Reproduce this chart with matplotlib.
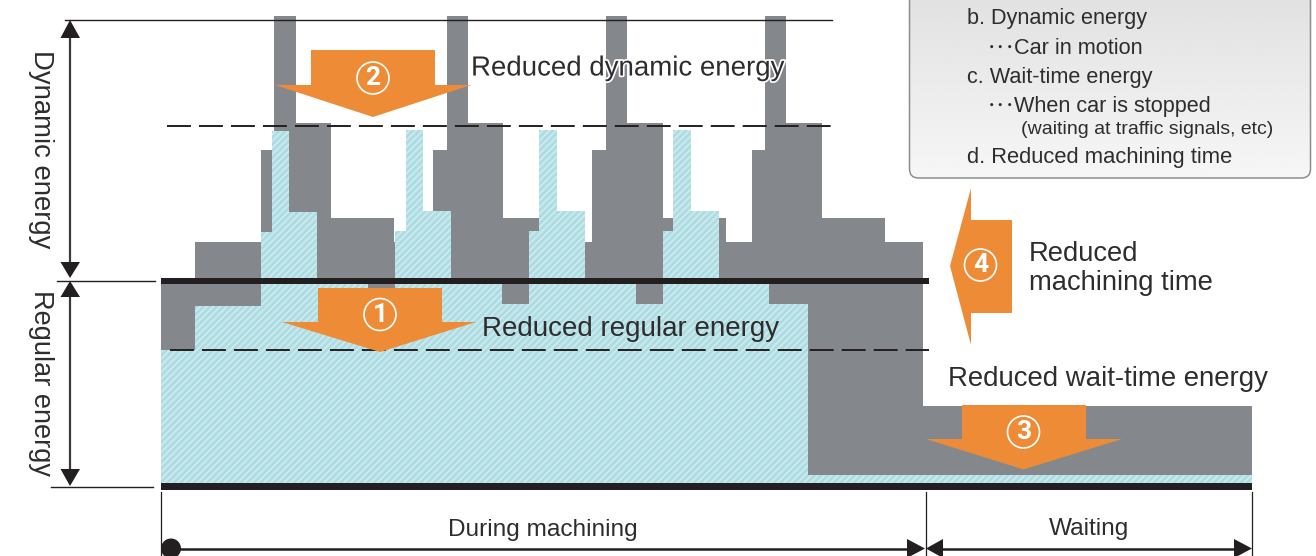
import numpy as np
import matplotlib
matplotlib.use("Agg")
import matplotlib.pyplot as plt
from matplotlib.patches import Polygon, Circle, FancyBboxPatch
import matplotlib.patheffects as pe

plt.rcParams['font.family'] = ['Liberation Sans', 'DejaVu Sans']
plt.rcParams['hatch.linewidth'] = 1.3

BASE = 486  # baseline row of the energy scale

# energy profile before reduction (grey)
gray_edges = [161, 195, 261, 274, 296, 331, 394, 433, 447, 468, 503, 539, 592, 606, 627, 663, 726, 752, 765, 786,
              822, 885, 923, 1252]
gray_energy = [205, 244, 336, 470, 363, 268, 244, 336, 470, 363, 268, 244, 336, 470, 363, 268, 244, 336, 470,
               363, 268, 244, 80]

# energy profile after reduction (blue)
blue_edges = [161, 195, 261, 272, 289, 317, 368, 395, 406, 423, 451, 502, 529, 539, 557, 585, 636, 663, 673, 691,
              719, 769, 808, 1252]
blue_energy = [136, 180, 254, 355, 274, 204, 182, 255, 356, 275, 204, 182, 255, 356, 275, 204, 182, 255, 356,
               275, 204, 182, 11]

labels_main = ["Reduced dynamic energy", "Reduced regular energy", "Reduced wait-time energy"]
labels_time = ["During machining", "Waiting"]
labels_axis = ["Dynamic energy", "Regular energy"]
legend_lines = ["b. Dynamic energy", "Car in motion", "c. Wait-time energy",
                "When car is stopped", "(waiting at traffic signals, etc)",
                "d. Reduced machining time"]

GRAY = "#84878B"
ORANGE = "#EE8B37"
INK = "#231F20"
TEXT = "#2E2C2D"

fig = plt.figure(figsize=(13.16, 5.56), dpi=100)
ax = fig.add_axes([0, 0, 1, 1])


def Y(row):
    return BASE - row


def reset():
    ax.set_xlim(0, 1316)
    ax.set_ylim(BASE - 556, BASE)
    ax.axis("off")


ax.stairs(gray_energy, gray_edges, baseline=0, fill=True, facecolor=GRAY, edgecolor="none", linewidth=0, zorder=2)
ax.stairs(blue_energy, blue_edges, baseline=0, fill=True, facecolor="#AEDCE3", edgecolor="#CDEAEE",
          hatch="/////", linewidth=0, zorder=3)

# reference lines
ax.plot([65, 832], [Y(20)] * 2, color=INK, lw=1.0, zorder=4)
ax.plot([57, 155], [Y(280.5)] * 2, color=INK, lw=1.0, zorder=4)
ax.plot([51, 153], [Y(486.5)] * 2, color=INK, lw=1.0, zorder=4)
ax.plot([167, 832], [Y(125.5)] * 2, color=INK, lw=1.4, dashes=(12.3, 4.15), zorder=4, dash_capstyle="butt")
ax.plot([170, 929], [Y(350)] * 2, color=INK, lw=1.4, dashes=(12.3, 4.15), zorder=6, dash_capstyle="butt")
ax.fill_between([161, 929], Y(283.5), Y(277.5), color=INK, lw=0, zorder=5)
ax.fill_between([161, 1252], Y(490), Y(483), color=INK, lw=0, zorder=5)
for x, r0 in [(161, 492), (925.5, 492), (1252, 492)]:
    ax.plot([x, x], [Y(r0), Y(556)], color=INK, lw=0.9, zorder=4)


def tri(pts):
    ax.add_patch(Polygon([(x, Y(r)) for x, r in pts], closed=True, facecolor=INK, edgecolor="none", zorder=7))


# left dimension arrows
ax.plot([70, 70], [Y(30), Y(268)], color="#3A3A3C", lw=1.6, zorder=6)
tri([(70, 20), (60.5, 38), (80, 38)])
tri([(70, 278), (60.5, 262), (80, 262)])
ax.plot([70, 70], [Y(290), Y(476)], color="#3A3A3C", lw=1.6, zorder=6)
tri([(70, 281), (60.5, 297), (80, 297)])
tri([(70, 486), (60.5, 469), (80, 469)])

# bottom dimension arrows
ax.plot([171, 915], [Y(549)] * 2, color=INK, lw=1.8, zorder=6)
ax.add_patch(Circle((171, Y(548.5)), 10, facecolor=INK, edgecolor="none", zorder=7))
tri([(925, 548.5), (907, 539), (907, 558)])
ax.plot([940, 1240], [Y(549)] * 2, color=INK, lw=1.8, zorder=6)
tri([(926, 548.5), (943, 539), (943, 558)])
tri([(1252, 548.5), (1234, 539), (1234, 558)])


def num(x, r, s):
    ax.add_patch(Circle((x, Y(r)), 16, facecolor="none", edgecolor="white", lw=1.2, zorder=9))
    ax.text(x, Y(r), s, color="white", fontsize=19, fontweight="bold", ha="center", va="center",
            family="Roboto", zorder=10)


def down(x0, x1, r0, r1, hx0, hx1, tipx, tipr, cr, s):
    ax.add_patch(Polygon([(x0, Y(r0)), (x1, Y(r0)), (x1, Y(r1)), (hx1, Y(r1)), (tipx, Y(tipr)), (hx0, Y(r1)),
                          (x0, Y(r1))], closed=True, facecolor=ORANGE, edgecolor="none", zorder=8))
    num(tipx, cr, s)


down(311, 435, 50, 85, 275, 471, 373, 117, 78, "2")
down(318, 442, 288, 322, 282, 476, 380, 352, 314.5, "1")
down(962, 1086, 405, 439, 926, 1122, 1023.5, 469.5, 432, "3")
ax.add_patch(Polygon([(1012, Y(220)), (1012, Y(313)), (971, Y(313)), (971, Y(345)), (950, Y(266)), (971, Y(188)),
                      (971, Y(220))], closed=True, facecolor=ORANGE, edgecolor="none", zorder=8))
num(980.5, 265, "4")

# legend box
box = FancyBboxPatch((909.5, Y(178)), 401, 200, boxstyle="round,pad=0,rounding_size=9", facecolor="none",
                     edgecolor="#8E8E8E", lw=1.1, zorder=12)
ax.add_patch(box)
im = ax.imshow(np.linspace(0.885, 0.965, 64)[:, None], cmap="gray", vmin=0, vmax=1, aspect="auto",
               extent=(909, 1311, Y(178), Y(0)), zorder=11)
im.set_clip_path(box)
reset()

tx = dict(color=TEXT, zorder=13, va="center", ha="left")
t = ax.text(471, Y(68.5), labels_main[0], fontsize=19.9, **tx)
t.set_path_effects([pe.withStroke(linewidth=2.5, foreground="white")])
ax.text(482, Y(329), labels_main[1], fontsize=20, **tx)
ax.text(948, Y(379), labels_main[2], fontsize=19.9, **tx)
ax.text(1029, Y(254), "Reduced", fontsize=19.7, **tx)
ax.text(1029, Y(283), "machining time", fontsize=19.7, **tx)
ax.text(543, Y(530), labels_time[0], fontsize=17.6, **{**tx, "ha": "center"})
ax.text(1089, Y(529), labels_time[1], fontsize=17.6, **{**tx, "ha": "center"})
ax.text(41, Y(149), labels_axis[0], fontsize=19.8, rotation=-90, **{**tx, "ha": "center"})
ax.text(41, Y(383), labels_axis[1], fontsize=19.5, rotation=-90, **{**tx, "ha": "center"})

legend_x = [967, 1014, 967, 1014, 1021, 967]
legend_r = [18.5, 48.5, 77.5, 106.5, 129.5, 157.5]
legend_s = [15.6, 15.6, 15.6, 15.6, 14, 15.8]
for s, x, r, fs in zip(legend_lines, legend_x, legend_r, legend_s):
    ax.text(x, Y(r), s, fontsize=fs, **tx)
for r in (48, 106):
    ax.text(987, Y(r), "\uff65\uff65\uff65", fontsize=13.7, family="Noto Sans CJK JP", **tx)

fig.savefig("out.png", dpi=100)
